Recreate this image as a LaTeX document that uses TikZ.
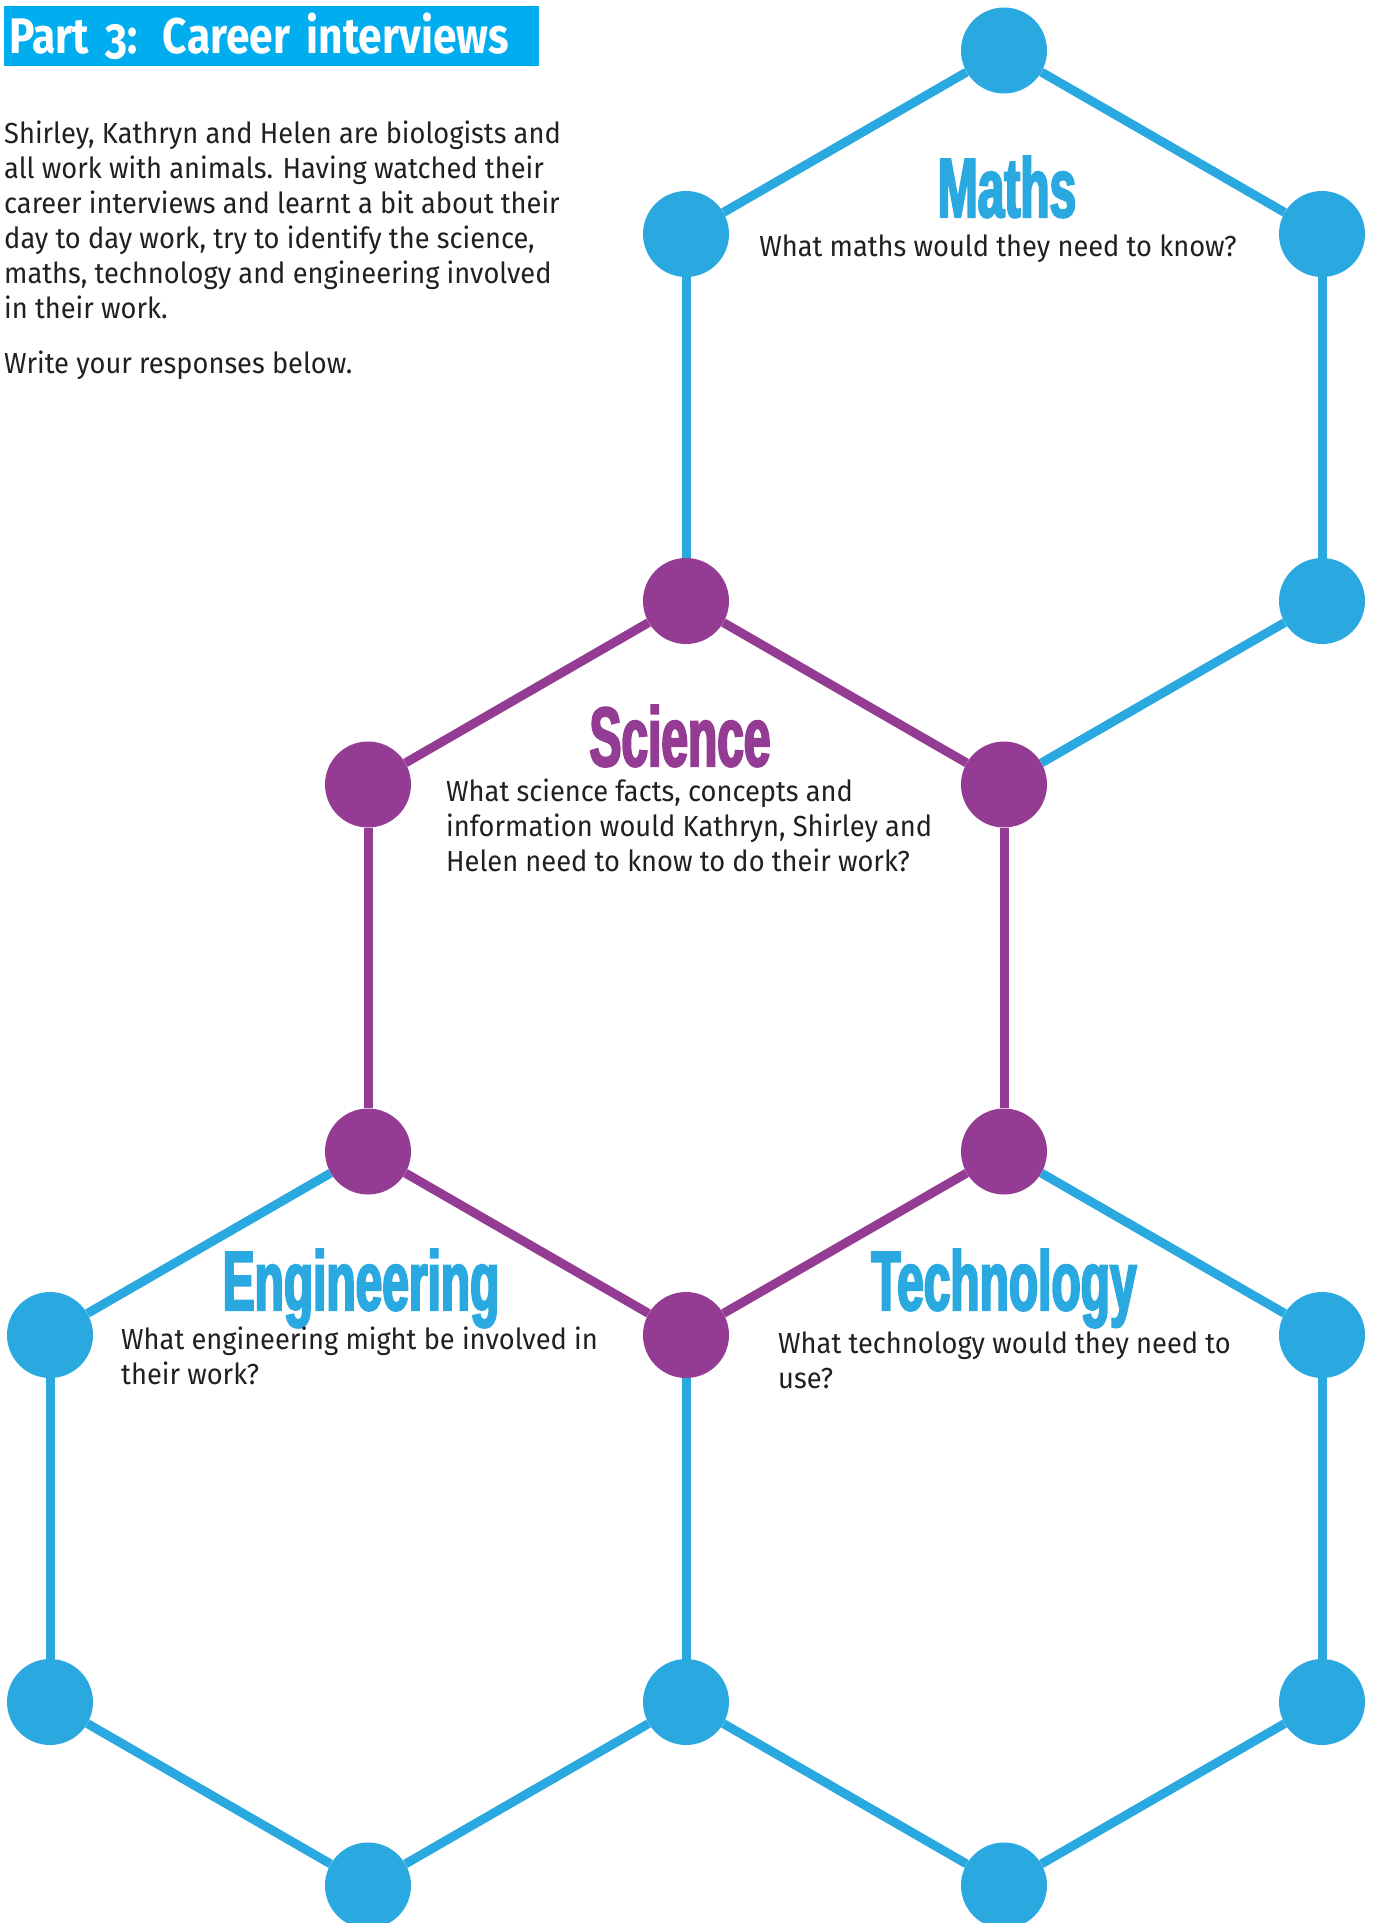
\documentclass[tikz,border=0pt]{standalone}
\usepackage{fontspec}
\setmainfont{Fira Sans}[FakeStretch=0.94]
\newfontfamily\titlefont{Fira Sans}[Numbers=OldStyle,FakeStretch=0.85]
\newfontfamily\headfont{Liberation Sans}[FakeStretch=0.57,FakeBold=2.5]
\usetikzlibrary{positioning}

\definecolor{hexblue}{HTML}{29A9E0}
\definecolor{hexpurple}{HTML}{943B93}
\definecolor{titlecyan}{HTML}{00AEEF}
\definecolor{inktext}{HTML}{231F20}

\begin{document}
\begin{tikzpicture}[x=1pt,y=1pt,on grid,
	bdot/.style={circle,fill=hexblue,minimum size=86pt,inner sep=0pt},
	pdot/.style={circle,fill=hexpurple,minimum size=86pt,inner sep=0pt},
	bline/.style={draw=hexblue,line width=9pt},
	pline/.style={draw=hexpurple,line width=9pt},
	heading/.style={font=\headfont\bfseries\fontsize{84}{84}\selectfont,anchor=base,inner sep=0pt},
	question/.style={font=\fontsize{29}{35}\selectfont,text=inktext,align=left,anchor=base west,inner sep=0pt}]
			\useasboundingbox (0,0) rectangle (1373,-1923);
			% science hexagon
			\node[pdot] (s1) at (686,-601)						{};
			\node[pdot] (s2) [below left=183.5pt and 318pt of s1]	{};
			\node[pdot] (s3) [below right=183.5pt and 318pt of s1]	{};
			\node[pdot] (s4) [below=367pt of s2]				{};
			\node[pdot] (s5) [below=367pt of s3]				{};
			\node[pdot] (s6) [below right=183.5pt and 318pt of s4]	{};
			% maths hexagon
			\node[bdot] (m1) [above=367pt of s1]				{};
			\node[bdot] (m2) [above right=183.5pt and 318pt of m1]	{};
			\node[bdot] (m3) [below right=183.5pt and 318pt of m2]	{};
			\node[bdot] (m4) [below=367pt of m3]				{};
			% engineering hexagon
			\node[bdot] (e1) [below left=183.5pt and 318pt of s4]	{};
			\node[bdot] (e2) [below=367pt of e1]				{};
			\node[bdot] (e3) [below right=183.5pt and 318pt of e2]	{};
			\node[bdot] (e4) [below=367pt of s6]				{};
			% technology hexagon
			\node[bdot] (t1) [below right=183.5pt and 318pt of s5]	{};
			\node[bdot] (t2) [below=367pt of t1]				{};
			\node[bdot] (t3) [below left=183.5pt and 318pt of t2]	{};
			\path[pline]
				(s1) edge (s2) (s1) edge (s3)
				(s2) edge (s4) (s3) edge (s5)
				(s4) edge (s6) (s5) edge (s6);
			\path[bline]
				(s1) edge (m1) (m1) edge (m2) (m2) edge (m3)
				(m3) edge (m4) (m4) edge (s3)
				(s4) edge (e1) (e1) edge (e2) (e2) edge (e3)
				(e3) edge (e4) (e4) edge (s6)
				(s5) edge (t1) (t1) edge (t2) (t2) edge (t3)
				(t3) edge (e4);
			% title and intro (multi-line texts sit on their last baseline)
			\node[fill=titlecyan,text=white,anchor=north west,text width=525pt,inner xsep=5pt,minimum height=60pt,align=left,
				font=\titlefont\bfseries\fontsize{50}{50}\selectfont] (title) at (4,-6) {Part 3: Career interviews};
			\node[question] (intro) at (4,-318)
				{Shirley, Kathryn and Helen are biologists and\\all work with animals. Having watched their\\career interviews and learnt a bit about their\\day to day work, try to identify the science,\\maths, technology and engineering involved\\in their work.};
			\node[question] (write) at (4,-373) {Write your responses below.};
			% headings and questions
			\node[heading,text=hexblue] (mathshead) at (1007,-217) {Maths};
			\node[question,anchor=base] (mathsq) at (998,-256) {What maths would they need to know?};
			\node[heading,text=hexpurple] (scihead) at (680,-766) {Science};
			\node[question] (sciq) at (446,-871)
				{What science facts, concepts and\\information would Kathryn, Shirley and\\Helen need to know to do their work?};
			\node[heading,text=hexblue] (enghead) at (361,-1310) {Engineering};
			\node[question] (engq) at (121,-1384) {What engineering might be involved in\\their work?};
			\node[heading,text=hexblue] (techhead) at (1004,-1310) {Technology};
			\node[question] (techq) at (778,-1388) {What technology would they need to\\use?};
		\end{tikzpicture}
\end{document}
